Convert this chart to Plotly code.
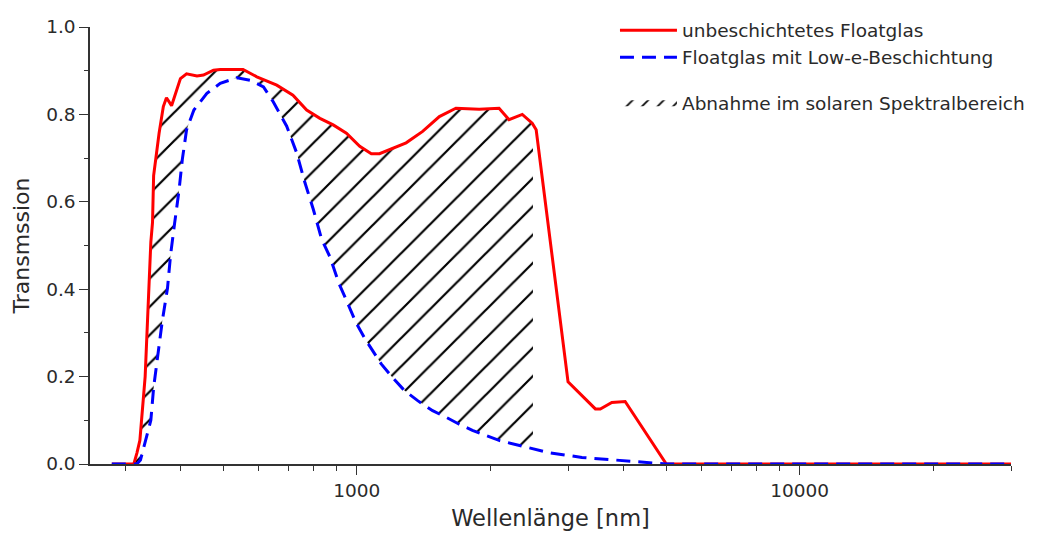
import numpy as np
import plotly.graph_objects as go

# --- data (wavelength in nm, transmission) ---
red_wl = [280, 314, 319, 324, 333, 339, 343, 346, 348, 358, 366, 372, 382, 400, 413, 436, 451,
          475, 492, 554, 595, 660, 718, 771, 826, 885, 948, 1016, 1079, 1126, 1293, 1409, 1537,
          1675, 1890, 2096, 2207, 2365, 2490, 2542, 2811, 3000, 3458, 3548, 3767, 4037, 5000, 30000]
red_t = [0.0, 0.0, 0.025, 0.054, 0.20, 0.37, 0.508, 0.553, 0.66, 0.757, 0.818, 0.838, 0.82, 0.882,
         0.893, 0.888, 0.89, 0.901, 0.903, 0.903, 0.886, 0.867, 0.844, 0.81, 0.791, 0.776, 0.757,
         0.727, 0.71, 0.71, 0.735, 0.761, 0.795, 0.814, 0.812, 0.814, 0.788, 0.80, 0.78, 0.765,
         0.417, 0.188, 0.126, 0.126, 0.141, 0.143, 0.0, 0.0]

blue_wl = [280, 319, 325, 343, 348, 356, 364, 374, 380, 388, 397, 404, 413, 429, 459, 492, 537,
           575, 616, 648, 695, 732, 764, 798, 833, 870, 912, 940, 973, 998, 1042, 1088, 1136,
           1207, 1282, 1373, 1484, 1591, 1704, 1825, 2096, 2406, 2715, 3225, 3834, 4555, 5000, 30000]
blue_t = [0.0, 0.0, 0.009, 0.10, 0.175, 0.251, 0.327, 0.402, 0.478, 0.55, 0.625, 0.697, 0.765,
          0.81, 0.848, 0.871, 0.884, 0.878, 0.863, 0.829, 0.773, 0.712, 0.644, 0.583, 0.515, 0.474,
          0.413, 0.383, 0.349, 0.322, 0.288, 0.259, 0.229, 0.197, 0.168, 0.145, 0.122, 0.107,
          0.091, 0.077, 0.054, 0.039, 0.026, 0.015, 0.009, 0.004, 0.0, 0.0]

solar_range = [300, 2500]  # hatched region (solar spectral range)

x_major = [1000, 10000]
x_major_text = ["1000", "10000"]
x_minor = [300, 400, 500, 600, 700, 800, 900, 2000, 3000, 4000, 5000, 6000, 7000, 8000, 9000,
           20000, 30000]

names = ["unbeschichtetes Floatglas", "Floatglas mit Low-e-Beschichtung",
         "Abnahme im solaren Spektralbereich"]


def sub_curve(wl, t, lo, hi):
    wl = np.asarray(wl, float)
    t = np.asarray(t, float)
    lw = np.log10(wl)
    inner = (wl > lo) & (wl < hi)
    xs = np.concatenate([[lo], wl[inner], [hi]])
    ys = np.interp(np.log10(xs), lw, t)
    return xs, ys


hb_x, hb_y = sub_curve(blue_wl, blue_t, *solar_range)
hr_x, hr_y = sub_curve(red_wl, red_t, *solar_range)

FONT = "DejaVu Sans"
AX = "#333333"
TXT = "#2a2a2a"

fig = go.Figure()
fig.add_trace(go.Scatter(x=hb_x, y=hb_y, mode="lines", line=dict(width=0, color="rgba(0,0,0,0)"),
                         showlegend=False, hoverinfo="skip"))
fig.add_trace(go.Scatter(x=hr_x, y=hr_y, mode="lines", line=dict(width=0, color="rgba(0,0,0,0)"),
                         fill="tonexty", fillcolor="rgba(0,0,0,0)",
                         fillpattern=dict(shape="/", size=20, solidity=0.11, fgcolor="black",
                                          fgopacity=1, bgcolor="rgba(0,0,0,0)", fillmode="overlay"),
                         showlegend=False, hoverinfo="skip"))
# legend entry for the hatched area
fig.add_trace(go.Scatter(x=[None], y=[None], mode="lines", line=dict(width=0, color="rgba(0,0,0,0)"),
                         fill="toself", fillcolor="rgba(0,0,0,0)",
                         fillpattern=dict(shape="/", size=11, solidity=0.16, fgcolor="black",
                                          fgopacity=1, bgcolor="rgba(0,0,0,0)", fillmode="overlay"),
                         name=names[2], legendgroup="b", legendrank=3, hoverinfo="skip"))
fig.add_trace(go.Scatter(x=red_wl, y=red_t, mode="lines", line=dict(color="#ff0000", width=3),
                         name=names[0], legendgroup="a", legendrank=1))
fig.add_trace(go.Scatter(x=blue_wl, y=blue_t, mode="lines",
                         line=dict(color="#0000ff", width=3, dash="14px,8px"),
                         name=names[1], legendgroup="a", legendrank=2))

fig.update_layout(
    width=1042, height=538,
    margin=dict(l=90, r=28, t=23, b=74),
    paper_bgcolor="white", plot_bgcolor="white",
    font=dict(family=FONT, size=18.5, color=TXT),
    showlegend=True,
    legend=dict(x=0.57, y=1.035, xanchor="left", yanchor="top", bgcolor="rgba(0,0,0,0)",
                font=dict(size=18.5, color=TXT), traceorder="grouped", tracegroupgap=18,
                itemwidth=57),
    xaxis=dict(type="log", range=[np.log10(250), np.log10(30000)],
               tickmode="array", tickvals=x_major, ticktext=x_major_text,
               ticks="outside", ticklen=9, tickwidth=1.3, tickcolor=AX,
               showline=True, linecolor=AX, linewidth=1.5, showgrid=False, zeroline=False,
               minor=dict(tickmode="array", tickvals=x_minor, ticks="outside", ticklen=5,
                          tickwidth=1.3, tickcolor=AX, showgrid=False),
               title=dict(text="Wellenlänge [nm]", font=dict(size=22.5), standoff=10),
               tickfont=dict(size=18.5)),
    yaxis=dict(range=[0, 1.0], tickmode="linear", tick0=0, dtick=0.2, tickformat=".1f",
               ticks="outside", ticklen=9, tickwidth=1.3, tickcolor=AX,
               showline=True, linecolor=AX, linewidth=1.5, showgrid=False, zeroline=False,
               minor=dict(dtick=0.1, ticks="outside", ticklen=4, tickwidth=1.3, tickcolor=AX,
                          showgrid=False),
               title=dict(text="Transmssion", font=dict(size=22), standoff=10),
               tickfont=dict(size=18.5)),
)

fig.write_html("out.html")
